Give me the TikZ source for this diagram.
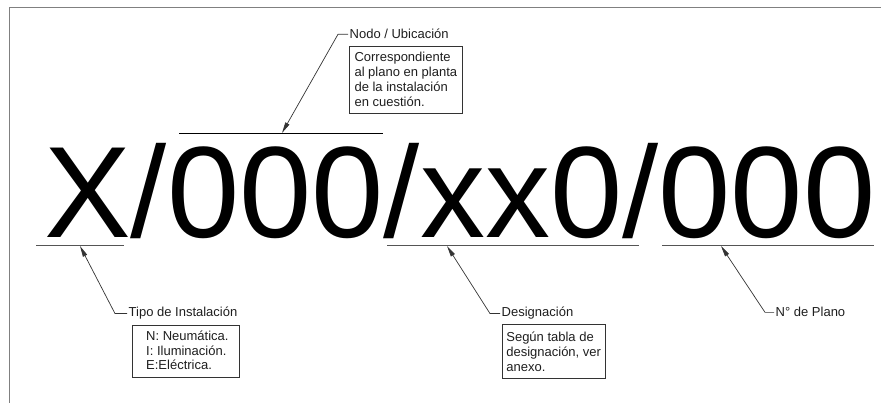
\documentclass[tikz,border=0pt]{standalone}
\usepackage{fontspec}
\setmainfont{Liberation Sans}
\usetikzlibrary{arrows.meta}
\definecolor{framegray}{HTML}{808080}
\definecolor{ulgray}{HTML}{555555}
\definecolor{leadgray}{HTML}{333333}
\definecolor{txtgray}{HTML}{1E1E1E}
\tikzset{
  bigtext/.style={anchor=base west,inner sep=0pt,font=\fontsize{130}{130}\selectfont},
  underline/.style={draw=ulgray,line width=1pt},
  topline/.style={draw=black,line width=0.9pt},
  leader/.style={draw=leadgray,line width=0.7pt,-{Triangle[length=11pt,width=4.5pt]}},
  lbl/.style={anchor=base west,inner xsep=1.5pt,inner ysep=0pt,text=txtgray,font=\fontsize{13}{15}\selectfont},
  boxline/.style={anchor=base west,inner sep=0pt,text=txtgray,font=\fontsize{13}{15}\selectfont},
  infobox/.style={anchor=north west,draw=leadgray,line width=0.7pt,align=left,inner xsep=3pt,inner ysep=0pt,text=txtgray,font=\fontsize{13}{15}\selectfont},
  framel/.style={draw=framegray,line width=1.3pt}
}
\begin{document}
\begin{tikzpicture}[x=1pt,y=-1pt]
\useasboundingbox (0,0) rectangle (881,403);
% frame
\coordinate (fa) at (9.5,403);
\coordinate (fb) at (9.5,7.5);
\coordinate (fc) at (881,7.5);
\draw[framel] (fa) -- (fb) -- (fc);
% big code
\node[bigtext] (code) at (44,238) {X/000/xx0/000};
% underlines
\coordinate (uXa) at (36,246);   \coordinate (uXb) at (124,246);   \coordinate (tipX) at (80,246);
\coordinate (uNa) at (179,133);  \coordinate (uNb) at (383,133);   \coordinate (tipN) at (282,133);
\coordinate (uDa) at (387,246);  \coordinate (uDb) at (639,246);   \coordinate (tipD) at (447,246);
\coordinate (uPa) at (662,246);  \coordinate (uPb) at (874,246);   \coordinate (tipP) at (721,246);
\draw[underline] (uXa) -- (uXb);
\draw[topline] (uNa) -- (uNb);
\draw[underline] (uDa) -- (uDb);
\draw[underline] (uPa) -- (uPb);
% labels
\node[lbl] (lN) at (348,39) {Nodo / Ubicación};
\node[lbl] (lT) at (127,317) {Tipo de Instalación};
\node[lbl] (lD) at (500,317) {Designación};
\node[lbl] (lP) at (774,317) {N° de Plano};
% leaders
\draw[leader] (lN.west) -- ++(-10,0) -- (tipN);
\draw[leader] (lT.west) -- ++(-12,0) -- (tipX);
\draw[leader] (lD.west) -- ++(-10,0) -- (tipD);
\draw[leader] (lP.west) -- ++(-9,0) -- (tipP);
% boxes
\node[infobox,minimum width=113pt,minimum height=67pt] (bN) at (349,46)
  {Correspondiente\\al plano en planta\\de la instalación\\en cuestión.};
\node[infobox,minimum width=107pt,minimum height=52pt] (bT) at (132,325) {};
\node[boxline] (t1) at (146,341) {N: Neumática.};
\node[boxline] (t2) at (146,355.5) {I: Iluminación.};
\node[boxline] (t3) at (146,370) {E:Eléctrica.};
\node[infobox,minimum width=101pt,minimum height=54pt,inner xsep=4pt] (bD) at (502,324)
  {Según tabla de\\designación, ver\\anexo.};
\end{tikzpicture}
\end{document}
